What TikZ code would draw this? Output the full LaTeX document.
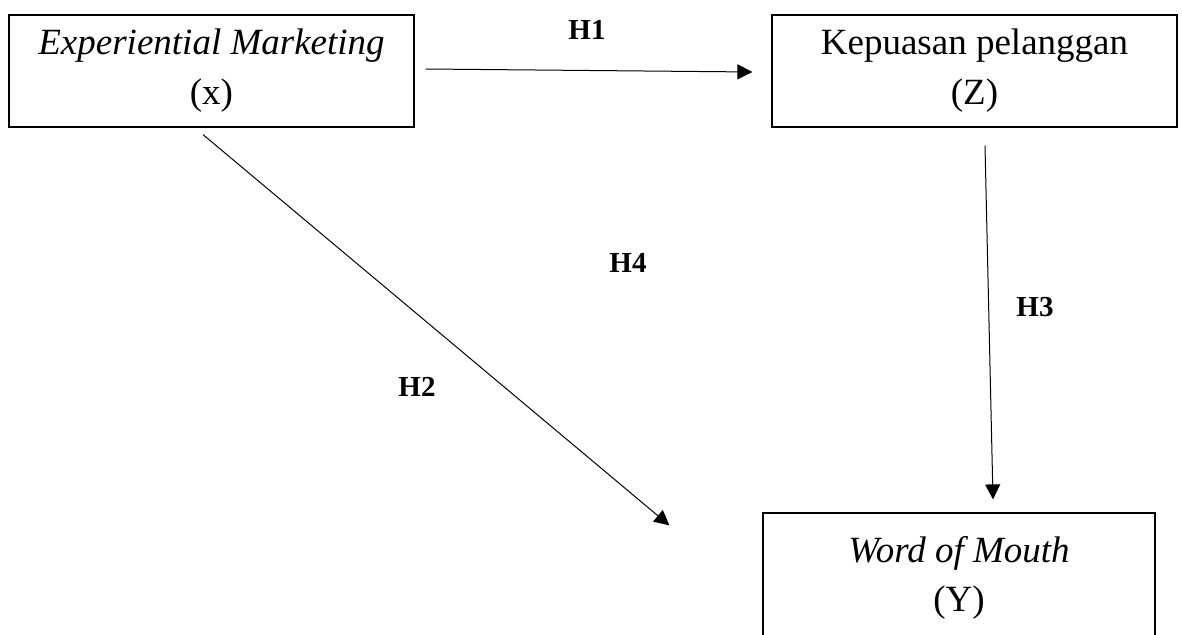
\documentclass[tikz,border=0pt]{standalone}
\usepackage{fontspec}
\setmainfont{Liberation Serif}
\usetikzlibrary{arrows.meta,calc}
\begin{document}
\begin{tikzpicture}[x=0.5pt,y=-0.5pt,
  box/.style={draw,line width=0.6pt,rectangle,inner sep=0pt,minimum width=202.5pt,minimum height=56pt,
    align=center,font=\fontsize{18.5pt}{25pt}\selectfont},
  vtext/.style={align=center,inner sep=0pt,font=\fontsize{18.5pt}{24.5pt}\selectfont},
  hlab/.style={inner sep=0pt,font=\fontsize{14.5pt}{17pt}\selectfont\bfseries},
  conn/.style={line width=0.5pt,-{Triangle[length=7.5pt,width=7.5pt]}}]
\clip (0,0) rectangle (1182,635);
\useasboundingbox (0,0) rectangle (1182,635);
\node[box] (X) at (211.5,71) {\textit{Experiential Marketing}\\(x)};
\node[box] (Z) at (974.5,71) {Kepuasan pelanggan\\(Z)};
\node[draw,line width=0.6pt,rectangle,inner sep=0pt,minimum width=196pt,minimum height=80pt] (Ybox) at (959,593) {};
\node[vtext] (Yt) at (959,578) {\textit{Word of Mouth}\\(Y)};
\draw[conn] ($(X.east)+(11,-2)$) -- ($(Z.west)+(-19,1)$);
\draw[conn] ($(Z.south)+(10.5,18)$) -- ($(Ybox.north)+(34,-13)$);
\draw[conn] ($(X.south)+(-8.5,7)$) -- ($(Ybox.north west)+(-93,13)$);
\node[hlab] (H1) at (587,30) {H1};
\node[hlab] (H4) at (628,263) {H4};
\node[hlab] (H3) at (1035,307) {H3};
\node[hlab] (H2) at (417,387) {H2};
\end{tikzpicture}
\end{document}
